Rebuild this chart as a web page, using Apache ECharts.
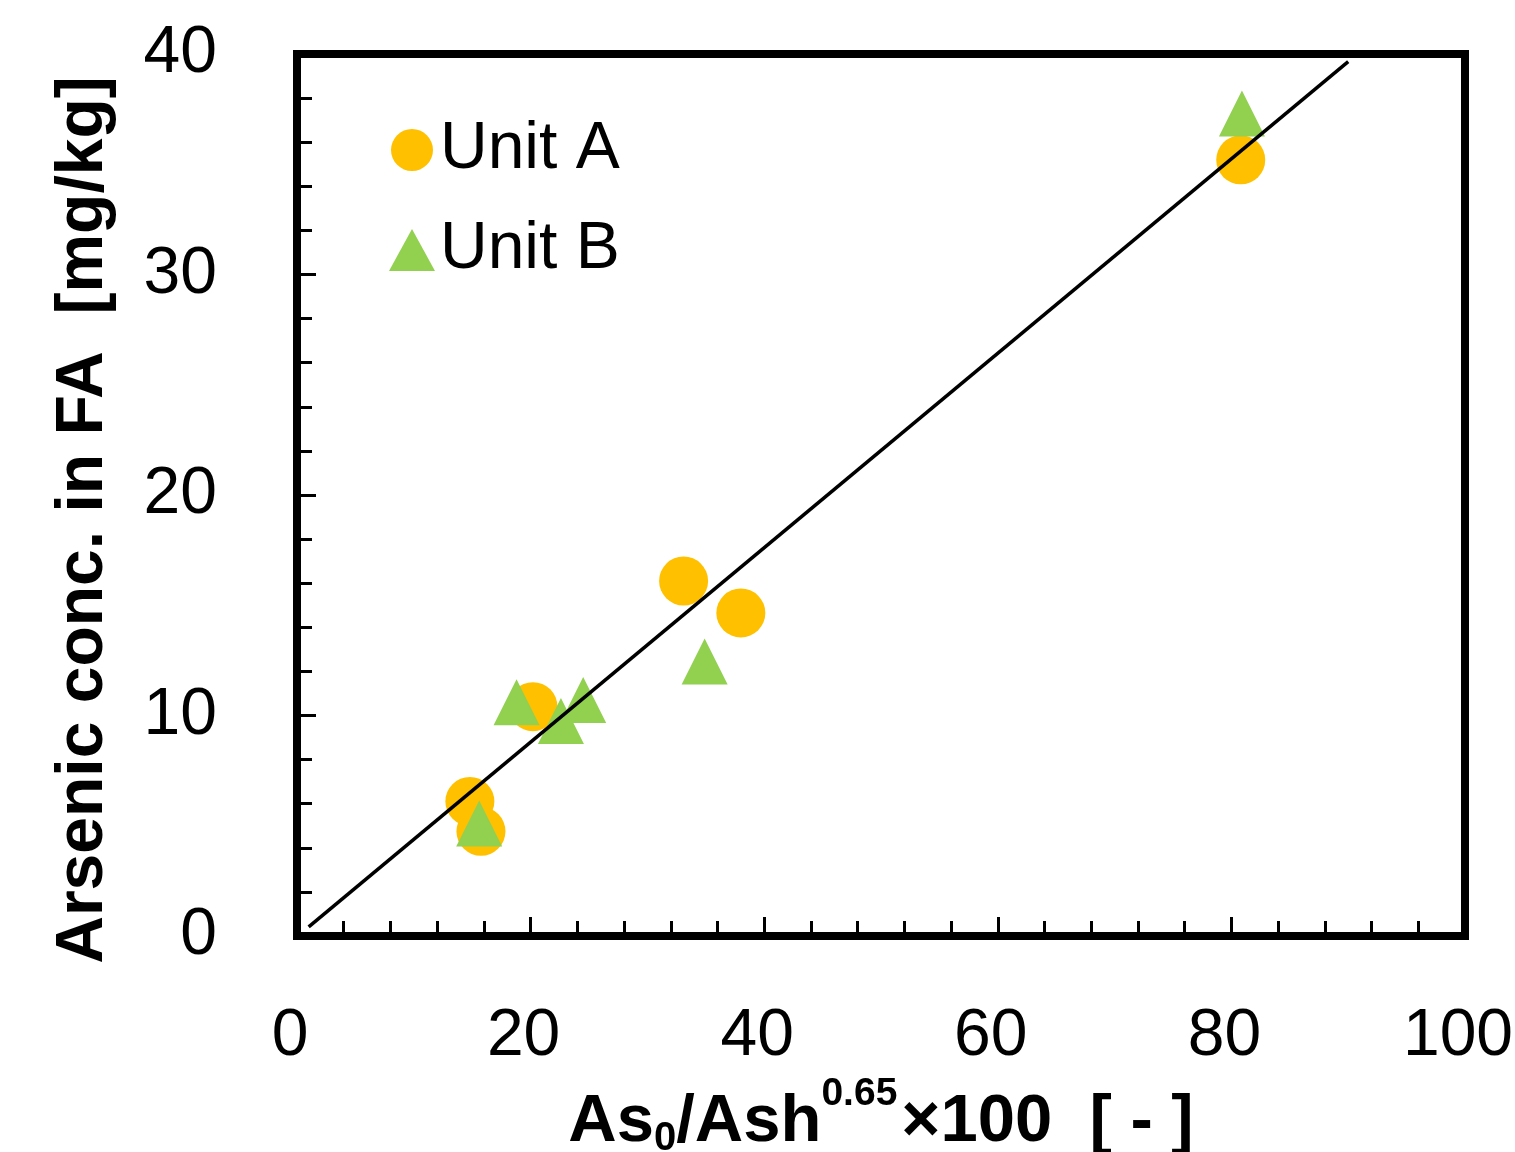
<!DOCTYPE html>
<html>
<head>
<meta charset="utf-8">
<script src="https://cdn.jsdelivr.net/npm/echarts@6/dist/echarts.min.js"></script>
<style>
html,body{margin:0;padding:0;background:#fff;}
#chart{width:1515px;height:1152px;}
</style>
</head>
<body>
<div id="chart"></div>
<script>
// Data
var unitA = [
  [80.8, 35.2],
  [33.1, 16.1],
  [38.0, 14.65],
  [20.2, 10.4],
  [14.8, 6.1],
  [15.75, 4.75]
];
var unitB = [
  [80.9, 37.3],
  [34.9, 12.45],
  [18.8, 10.6],
  [22.6, 9.75],
  [24.5, 10.7],
  [15.6, 5.1]
];
var fitLine = [
  [1.0, 0.41],
  [90.0, 39.65]
];
var seriesNames = ['Unit A', 'Unit B'];
var yTitle = 'Arsenic conc. in FA  [mg/kg]';

var FONT = '"Liberation Sans", Arial, sans-serif';
var chart = echarts.init(document.getElementById('chart'), null, {renderer: 'canvas'});

var option = {
  animation: false,
  backgroundColor: '#ffffff',
  grid: {
    left: 297, right: 50, top: 54, bottom: 216,
    outerBoundsMode: 'none',
    containLabel: false,
    show: true, borderColor: '#000', borderWidth: 8, backgroundColor: 'transparent'
  },
  legend: {
    data: seriesNames,
    orient: 'vertical',
    left: 384, top: 112,
    itemWidth: 46, itemHeight: 42, itemGap: 34,
    textStyle: {fontFamily: FONT, fontSize: 66, color: '#000', lineHeight: 66}
  },
  xAxis: {
    type: 'value', min: 0, max: 100, interval: 20,
    axisLine: {show: true, onZero: false, lineStyle: {color: '#000', width: 8}},
    axisTick: {show: true, inside: true, length: 19, lineStyle: {color: '#000', width: 3}},
    minorTick: {show: true, splitNumber: 5, length: 15, lineStyle: {color: '#000', width: 3}},
    splitLine: {show: false},
    axisLabel: {fontFamily: FONT, fontSize: 66, color: '#000', margin: 68, padding: [0, 14, 0, 0]},
    name: '{b|As}{sub|0}{b|/Ash}{sup|0.65}{b|×100  [ - ]}',
    nameLocation: 'middle',
    nameGap: 137,
    nameTextStyle: {
      fontFamily: FONT, color: '#000',
      rich: {
        b: {fontFamily: FONT, fontSize: 67, fontWeight: 'bold', color: '#000', lineHeight: 96, verticalAlign: 'middle'},
        sub: {fontFamily: FONT, fontSize: 40, fontWeight: 'bold', color: '#000', verticalAlign: 'bottom', padding: [0, 0, 12, 0]},
        sup: {fontFamily: FONT, fontSize: 39, fontWeight: 'bold', color: '#000', lineHeight: 40, verticalAlign: 'top', padding: [0, 4, 0, 0]}
      }
    }
  },
  yAxis: {
    type: 'value', min: 0, max: 40, interval: 10,
    axisLine: {show: true, onZero: false, lineStyle: {color: '#000', width: 8}},
    axisTick: {show: true, inside: true, length: 19, lineStyle: {color: '#000', width: 3}},
    minorTick: {show: true, splitNumber: 5, length: 15, lineStyle: {color: '#000', width: 3}},
    splitLine: {show: false},
    axisLabel: {fontFamily: FONT, fontSize: 66, color: '#000', margin: 80, padding: [6, 0, 0, 0]}
  },
  graphic: [{
    type: 'text',
    x: 84, y: 520,
    rotation: Math.PI / 2,
    style: {
      text: yTitle,
      fontFamily: FONT, fontSize: 66, fontWeight: 'bold', fill: '#000',
      align: 'center', verticalAlign: 'middle'
    }
  }],
  series: [
    {
      name: seriesNames[0], type: 'scatter', data: unitA,
      symbol: 'circle', symbolSize: 49,
      itemStyle: {color: '#FFC000', opacity: 1}, z: 2
    },
    {
      name: seriesNames[1], type: 'scatter', data: unitB,
      symbol: 'triangle', symbolSize: [46, 46],
      itemStyle: {color: '#92D050', opacity: 1}, z: 3
    },
    {
      name: 'fit', type: 'line', data: fitLine,
      showSymbol: false, symbol: 'none',
      lineStyle: {color: '#000', width: 3.5}, z: 4, silent: true
    }
  ]
};
chart.setOption(option);
</script>
</body>
</html>
